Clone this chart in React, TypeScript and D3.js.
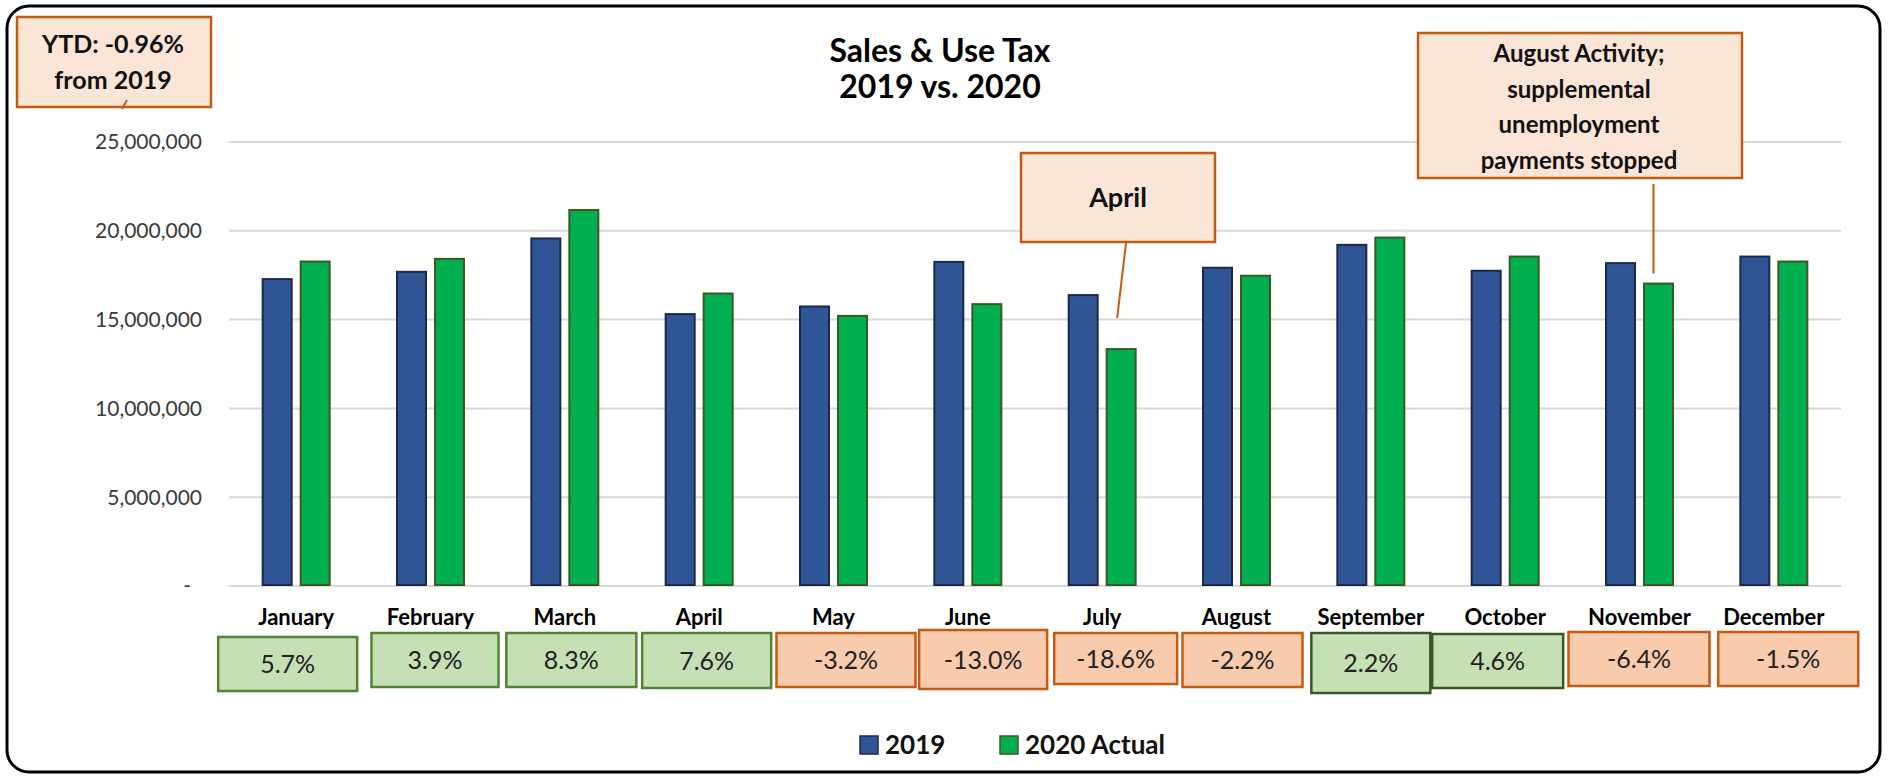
import React, { useEffect, useRef } from "react";
import * as d3 from "d3";

const months = [
  "January", "February", "March", "April", "May", "June",
  "July", "August", "September", "October", "November", "December",
];
const seriesNames = ["2019", "2020 Actual"];
const sales2019 = [
  17280000, 17690000, 19570000, 15310000, 15740000, 18250000,
  16380000, 17920000, 19210000, 17750000, 18180000, 18550000,
];
const sales2020 = [
  18270000, 18420000, 21170000, 16470000, 15210000, 15870000,
  13340000, 17470000, 19620000, 18550000, 17030000, 18270000,
];
const pctChange = [5.7, 3.9, 8.3, 7.6, -3.2, -13.0, -18.6, -2.2, 2.2, 4.6, -6.4, -1.5];
const yTicks = [0, 5000000, 10000000, 15000000, 20000000, 25000000];

const titleLines = ["Sales & Use Tax", "2019 vs. 2020"];
const ytdLines = ["YTD: -0.96%", "from 2019"];
const aprilLines = ["April"];
const augustLines = ["August Activity;", "supplemental", "unemployment", "payments stopped"];

// hand placed text boxes under the month labels (offset from band centre)
const pctBoxLayout = [
  { dx: -8.5, w: 139, y: 637, h: 54 },
  { dx: 4.5, w: 127, y: 633, h: 54 },
  { dx: 6.5, w: 130, y: 633, h: 54 },
  { dx: 7.5, w: 129, y: 633, h: 55 },
  { dx: 12.5, w: 139, y: 633, h: 54 },
  { dx: 15.3, w: 128, y: 630, h: 59 },
  { dx: 13.5, w: 123, y: 633, h: 51 },
  { dx: 6, w: 120, y: 633, h: 54 },
  { dx: 0, w: 119, y: 633, h: 60 },
  { dx: -7.5, w: 131, y: 634, h: 54 },
  { dx: -0.5, w: 141, y: 632, h: 54 },
  { dx: 14.4, w: 140, y: 632, h: 54 },
];

const FONT = "Lato, 'Open Sans', sans-serif";
const ORANGE = "#C55A11";
const NOTE_FILL = "#FBE5D6";

export default function App() {
  const ref = useRef<SVGSVGElement>(null);

  useEffect(() => {
    const svg = d3.select(ref.current);
    svg.selectAll("*").remove();

    const left = 229;
    const right = 1841;
    const x0 = d3.scaleBand().domain(months).range([left, right]);
    const x1 = d3
      .scaleBand()
      .domain(seriesNames)
      .range([0, x0.bandwidth()])
      .paddingInner(0.184)
      .paddingOuter(0.86);
    const y = d3.scaleLinear().domain([0, 25000000]).range([586, 142]);
    const color = d3.scaleOrdinal<string>().domain(seriesNames).range(["#2F5597", "#00B050"]);
    const edge = d3.scaleOrdinal<string>().domain(seriesNames).range(["#1C2A48", "#3A5A22"]);
    const fmt = d3.format(",");

    // frame
    svg
      .append("rect")
      .attr("x", 7)
      .attr("y", 6)
      .attr("width", 1873)
      .attr("height", 766)
      .attr("rx", 22)
      .attr("fill", "#fff")
      .attr("stroke", "#000")
      .attr("stroke-width", 3);

    // title
    svg
      .append("g")
      .selectAll("text")
      .data(titleLines)
      .join("text")
      .attr("x", 940)
      .attr("y", (d, i) => 62 + i * 36)
      .attr("text-anchor", "middle")
      .attr("font-family", FONT)
      .attr("font-weight", 700)
      .attr("font-size", 32)
      .attr("fill", "#000")
      .text((d) => d);

    // grid + y labels
    const grid = svg.append("g");
    grid
      .selectAll("line")
      .data(yTicks)
      .join("line")
      .attr("x1", left)
      .attr("x2", right)
      .attr("y1", (d) => y(d))
      .attr("y2", (d) => y(d))
      .attr("stroke", "#D9D9D9")
      .attr("stroke-width", 2);
    grid
      .selectAll("text")
      .data(yTicks)
      .join("text")
      .attr("x", (d) => (d === 0 ? 191 : 202))
      .attr("y", (d) => y(d))
      .attr("dy", "0.35em")
      .attr("text-anchor", "end")
      .attr("font-family", FONT)
      .attr("font-size", 21)
      .attr("fill", "#3A3A3A")
      .text((d) => (d === 0 ? "-" : fmt(d)));

    // bars
    const rows = months.map((m, i) => ({ month: m, values: [sales2019[i], sales2020[i]] }));
    svg
      .append("g")
      .selectAll("g")
      .data(rows)
      .join("g")
      .attr("transform", (d) => `translate(${x0(d.month)},0)`)
      .selectAll("rect")
      .data((d) => d.values.map((v, j) => ({ key: seriesNames[j], value: v })))
      .join("rect")
      .attr("x", (d) => (x1(d.key) as number) + 1)
      .attr("width", x1.bandwidth() - 2)
      .attr("y", (d) => y(d.value))
      .attr("height", (d) => y(0) - y(d.value) - 1)
      .attr("fill", (d) => color(d.key))
      .attr("stroke", (d) => edge(d.key))
      .attr("stroke-width", 2);

    // month labels
    svg
      .append("g")
      .selectAll("text")
      .data(months)
      .join("text")
      .attr("x", (d) => (x0(d) as number) + x0.bandwidth() / 2)
      .attr("y", 625)
      .attr("text-anchor", "middle")
      .attr("font-family", FONT)
      .attr("font-weight", 700)
      .attr("font-size", 22)
      .attr("fill", "#000")
      .text((d) => d);

    // percent change boxes
    const pct = svg
      .append("g")
      .selectAll("g")
      .data(months.map((m, i) => ({ month: m, pct: pctChange[i], box: pctBoxLayout[i] })))
      .join("g")
      .attr(
        "transform",
        (d) => `translate(${(x0(d.month) as number) + x0.bandwidth() / 2 + d.box.dx},${d.box.y})`
      );
    pct
      .append("rect")
      .attr("x", (d) => -d.box.w / 2)
      .attr("width", (d) => d.box.w)
      .attr("height", (d) => d.box.h)
      .attr("fill", (d) => (d.pct >= 0 ? "#C5E0B4" : "#F8CBAD"))
      .attr("stroke", (d, i) => (d.pct >= 0 ? (i > 7 ? "#385723" : "#548235") : ORANGE))
      .attr("stroke-width", 2.5);
    pct
      .append("text")
      .attr("y", (d) => d.box.h / 2)
      .attr("dy", "0.36em")
      .attr("text-anchor", "middle")
      .attr("font-family", FONT)
      .attr("font-size", 25)
      .attr("fill", "#222")
      .text((d) => `${d.pct.toFixed(1)}%`);

    // callout notes
    const note = (x: number, yy: number, w: number, h: number, lines: string[], cx: number, base: number, step: number, size: number) => {
      const g = svg.append("g");
      g.append("rect")
        .attr("x", x)
        .attr("y", yy)
        .attr("width", w)
        .attr("height", h)
        .attr("fill", NOTE_FILL)
        .attr("stroke", ORANGE)
        .attr("stroke-width", 2.5);
      g.selectAll("text")
        .data(lines)
        .join("text")
        .attr("x", cx)
        .attr("y", (d, i) => base + i * step)
        .attr("text-anchor", "middle")
        .attr("font-family", FONT)
        .attr("font-weight", 700)
        .attr("font-size", size)
        .attr("fill", "#111")
        .text((d) => d);
      return g;
    };

    note(17, 17, 194, 90, ytdLines, 113, 53, 36, 25);
    svg
      .append("line")
      .attr("x1", 122)
      .attr("y1", 109)
      .attr("x2", 127)
      .attr("y2", 100)
      .attr("stroke", ORANGE)
      .attr("stroke-width", 2);

    note(1021, 153, 194, 89, aprilLines, 1118, 207, 0, 27);
    const julyGreen = (x0("July") as number) + (x1("2020 Actual") as number) + x1.bandwidth() / 2;
    svg
      .append("line")
      .attr("x1", 1126)
      .attr("y1", 243)
      .attr("x2", julyGreen - 4)
      .attr("y2", y(sales2020[6]) - 31)
      .attr("stroke", ORANGE)
      .attr("stroke-width", 2);

    note(1418, 33, 324, 145, augustLines, 1579, 62, 35.5, 24);
    const novGreen = (x0("November") as number) + (x1("2020 Actual") as number) + x1.bandwidth() / 2;
    svg
      .append("line")
      .attr("x1", novGreen - 5)
      .attr("y1", 184)
      .attr("x2", novGreen - 5)
      .attr("y2", y(sales2020[10]) - 10)
      .attr("stroke", ORANGE)
      .attr("stroke-width", 2);

    // legend
    const legendX = [860, 1000];
    const legend = svg
      .append("g")
      .selectAll("g")
      .data(seriesNames)
      .join("g")
      .attr("transform", (d, i) => `translate(${legendX[i]},736)`);
    legend
      .append("rect")
      .attr("width", 18)
      .attr("height", 18)
      .attr("fill", (d) => color(d))
      .attr("stroke", (d) => edge(d))
      .attr("stroke-width", 1.5);
    legend
      .append("text")
      .attr("x", 25)
      .attr("y", 18)
      .attr("font-family", FONT)
      .attr("font-weight", 700)
      .attr("font-size", 26)
      .attr("fill", "#111")
      .text((d) => d);
  }, []);

  return (
    <div style={{ position: "absolute", left: 0, top: 0 }}>
      <svg ref={ref} width={1891} height={777} style={{ display: "block" }} />
    </div>
  );
}
